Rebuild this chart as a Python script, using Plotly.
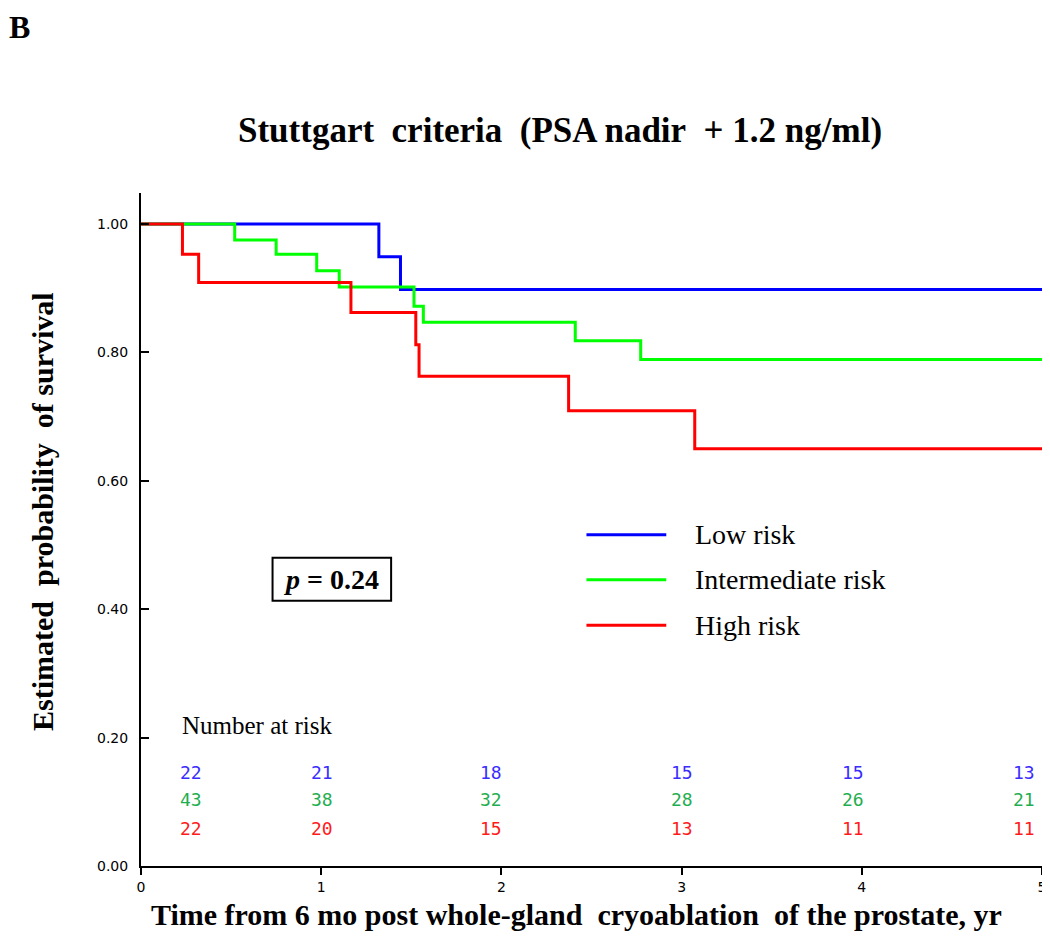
import plotly.graph_objects as go

# ---------------- data ----------------
groups = ["Low risk", "Intermediate risk", "High risk"]
colors = ["#0000ff", "#00ff00", "#ff0000"]
risk_colors = ["#3a2cff", "#1fae4f", "#ff1a1a"]

low_t = [0, 1.32, 1.44, 5]
low_s = [1.0, 0.949, 0.898, 0.898]

mid_t = [0, 0.52, 0.75, 0.975, 1.10, 1.515, 1.567, 2.41, 2.773, 5]
mid_s = [1.0, 0.975, 0.953, 0.927, 0.902, 0.872, 0.847, 0.818, 0.789, 0.789]

high_t = [0, 0.23, 0.32, 1.165, 1.525, 1.543, 2.373, 3.073, 5]
high_s = [1.0, 0.953, 0.909, 0.862, 0.812, 0.763, 0.709, 0.65, 0.65]

risk_low = [22, 21, 18, 15, 15, 13]
risk_mid = [43, 38, 32, 28, 26, 21]
risk_high = [22, 20, 15, 13, 11, 11]

x_ticks = [0, 1, 2, 3, 4, 5]
y_ticks = [0.0, 0.2, 0.4, 0.6, 0.8, 1.0]
y_tick_text = ["0.00", "0.20", "0.40", "0.60", "0.80", "1.00"]

title_text = "Stuttgart\u00a0 criteria\u00a0 (PSA nadir\u00a0 + 1.2 ng/ml)"
x_title = "Time from 6 mo post whole-gland\u00a0 cryoablation\u00a0 of the prostate, yr"
y_title = "Estimated\u00a0 probability\u00a0 of survival"
p_text = "<i>p</i> = 0.24"

# ---------------- layout positions ----------------
risk_xpos = [0.28, 1.005, 1.94, 3.0, 3.95, 4.9]
risk_ypos = [0.146, 0.104, 0.059]
legend_x0, legend_x1, legend_tx = 2.472, 2.915, 3.064
legend_y = [0.516, 0.446, 0.375]

SERIF = "Liberation Serif, Times New Roman, serif"
PW = 901  # plot width in px

fig = go.Figure()
series = [(low_t, low_s), (mid_t, mid_s), (high_t, high_s)]
for (t, s), name, c in zip(series, groups, colors):
    fig.add_trace(go.Scatter(x=t, y=s, mode="lines", name=name,
                             line=dict(color=c, width=3, shape="hv"),
                             showlegend=False, hoverinfo="skip"))

annotations = []
shapes = []

# legend
for name, c, yy in zip(groups, colors, legend_y):
    shapes.append(dict(type="line", xref="x", yref="y", x0=legend_x0, x1=legend_x1,
                       y0=yy, y1=yy, line=dict(color=c, width=3)))
    annotations.append(dict(x=legend_tx, y=yy, xref="x", yref="y", text=name,
                            showarrow=False, xanchor="left", yanchor="middle",
                            font=dict(family=SERIF, size=28, color="black")))

# p-value box
shapes.append(dict(type="rect", xref="x", yref="y", x0=0.730, x1=1.388, y0=0.413, y1=0.480,
                   line=dict(color="black", width=2), fillcolor="rgba(0,0,0,0)"))
annotations.append(dict(x=(0.730 + 1.388) / 2, y=(0.413 + 0.480) / 2, xref="x", yref="y",
                        text="<b>" + p_text + "</b>", showarrow=False,
                        font=dict(family=SERIF, size=28, color="black")))

# number at risk
annotations.append(dict(x=0.216, y=0.2196, xref="x", yref="y", text="Number at risk",
                        showarrow=False, xanchor="left", yanchor="middle",
                        font=dict(family=SERIF, size=25, color="black")))
for row, rc, yy in zip([risk_low, risk_mid, risk_high], risk_colors, risk_ypos):
    for xx, v in zip(risk_xpos, row):
        annotations.append(dict(x=xx, y=yy, xref="x", yref="y", text=str(v),
                                showarrow=False, xanchor="center", yanchor="middle",
                                font=dict(family="DejaVu Sans Mono, monospace", size=18, color=rc)))

# axis titles
annotations.append(dict(x=(42 - 141) / PW, y=(866 - 512) / 673, xref="paper", yref="paper",
                        text="<b>" + y_title + "</b>", textangle=-90, showarrow=False,
                        xanchor="center", yanchor="middle",
                        font=dict(family=SERIF, size=30, color="black")))
annotations.append(dict(x=(576 - 141) / PW, y=(866 - 914) / 673, xref="paper", yref="paper",
                        text="<b>" + x_title + "</b>", showarrow=False,
                        xanchor="center", yanchor="middle",
                        font=dict(family=SERIF, size=30, color="black")))
# title
annotations.append(dict(x=(560 - 141) / PW, y=(866 - 130) / 673, xref="paper", yref="paper",
                        text="<b>" + title_text + "</b>", showarrow=False,
                        xanchor="center", yanchor="middle",
                        font=dict(family=SERIF, size=35, color="black")))
# panel label (anchored at the top-left of the figure)
annotations.append(dict(x=(8 - 141) / PW, y=(866 - 8) / 673, xref="paper", yref="paper",
                        text="<b>B</b>", showarrow=False, xanchor="left", yanchor="top",
                        borderpad=0,
                        font=dict(family=SERIF, size=32, color="black")))

# page body has an 8px margin: figure placed at (8, 8)
fig.update_layout(
    width=1042, height=928,
    margin=dict(l=133, r=8, t=185, b=70, autoexpand=False),
    paper_bgcolor="white", plot_bgcolor="white",
    showlegend=False,
    annotations=annotations,
    shapes=shapes,
    xaxis=dict(range=[0, 5], tickvals=x_ticks, ticktext=[str(v) for v in x_ticks],
               showline=True, linecolor="black", linewidth=2, showgrid=False, zeroline=False,
               ticks="outside", ticklen=7, tickwidth=2, tickcolor="black",
               ticklabeloverflow="allow", automargin=False,
               tickfont=dict(family="DejaVu Sans", size=14, color="black")),
    yaxis=dict(range=[0, (866 - 193) / 642], tickvals=y_ticks, ticktext=y_tick_text,
               showline=True, linecolor="black", linewidth=2, showgrid=False, zeroline=False,
               ticks="inside", ticklen=8, tickwidth=2, tickcolor="black",
               ticklabelstandoff=8, automargin=False,
               tickfont=dict(family="DejaVu Sans", size=14, color="black")),
)

fig.write_html("out.html")
